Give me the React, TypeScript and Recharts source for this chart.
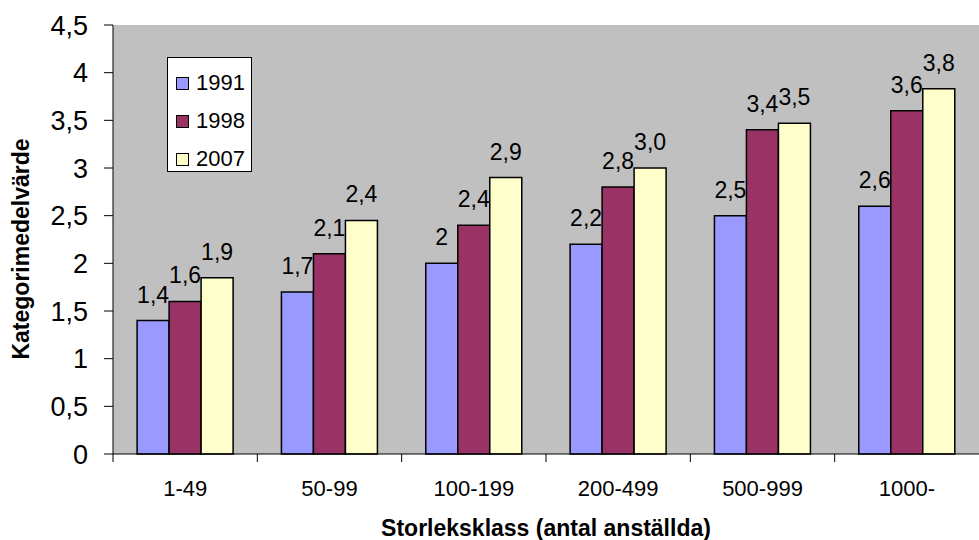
import React from "react";
import {
  BarChart,
  Bar,
  XAxis,
  YAxis,
  CartesianGrid,
  Legend,
  LabelList,
} from "recharts";

const categories = ["1-49", "50-99", "100-199", "200-499", "500-999", "1000-"];
const values1991 = [1.4, 1.7, 2.0, 2.2, 2.5, 2.6];
const values1998 = [1.6, 2.1, 2.4, 2.8, 3.4, 3.6];
const values2007 = [1.85, 2.45, 2.9, 3.0, 3.47, 3.83];
const labels1991 = ["1,4", "1,7", "2", "2,2", "2,5", "2,6"];
const labels1998 = ["1,6", "2,1", "2,4", "2,8", "3,4", "3,6"];
const labels2007 = ["1,9", "2,4", "2,9", "3,0", "3,5", "3,8"];
const yTicks = [0, 0.5, 1, 1.5, 2, 2.5, 3, 3.5, 4, 4.5];

const FONT = '"Liberation Sans", Arial, sans-serif';

const series = [
  { key: "y1991", label: "l1991", name: "1991", color: "#9999FF" },
  { key: "y1998", label: "l1998", name: "1998", color: "#993366" },
  { key: "y2007", label: "l2007", name: "2007", color: "#FFFFCC" },
];

const chartData = categories.map((cat, i) => ({
  name: cat,
  y1991: values1991[i],
  y1998: values1998[i],
  y2007: values2007[i],
  l1991: labels1991[i],
  l1998: labels1998[i],
  l2007: labels2007[i],
}));

// value label centred over each bar, a bit above its top
const renderValueLabel = (props: any) => {
  const { x, y, width, value } = props;
  return (
    <text
      x={Number(x) + Number(width) / 2}
      y={Number(y) - 18}
      textAnchor="middle"
      fontSize={23}
      fontFamily={FONT}
      fill="#000"
    >
      {value}
    </text>
  );
};

// category label plus a tick mark on the left edge of the band
const renderXTick = (props: any) => {
  const { x, y, payload } = props;
  const half = payload && payload.offset ? payload.offset : 72;
  return (
    <g>
      <line x1={x - half} y1={y} x2={x - half} y2={y + 8} stroke="#000" />
      <text
        x={x}
        y={y + 42}
        textAnchor="middle"
        fontSize={22}
        fontFamily={FONT}
        fill="#000"
      >
        {payload.value}
      </text>
    </g>
  );
};

const renderLegend = () => (
  <div
    style={{
      width: 85,
      height: 115,
      boxSizing: "border-box",
      background: "#fff",
      border: "1px solid #000",
      fontFamily: FONT,
      fontSize: 22,
      paddingTop: 6,
    }}
  >
    {series.map((s) => (
      <div
        key={s.key}
        style={{ display: "flex", alignItems: "center", height: 38, paddingLeft: 8 }}
      >
        <span
          style={{
            display: "inline-block",
            width: 11,
            height: 11,
            background: s.color,
            border: "1px solid #000",
            marginRight: 7,
          }}
        />
        {s.name}
      </div>
    ))}
  </div>
);

export default function App() {
  return (
    <div style={{ position: "absolute", left: 0, top: 0, background: "#fff" }}>
      <BarChart
        width={979}
        height={540}
        data={chartData}
        margin={{ top: 25, right: 0, bottom: 0, left: 0 }}
        barGap={0}
        barCategoryGap="16.7%"
      >
        <CartesianGrid
          fill="#C0C0C0"
          horizontal={false}
          vertical={false}
        />
        <XAxis
          dataKey="name"
          height={86}
          axisLine={{ stroke: "#000" }}
          tickLine={false}
          tickSize={0}
          tickMargin={0}
          tick={renderXTick}
          interval={0}
          label={{
            content: () => (
              <text
                x={546}
                y={536}
                textAnchor="middle"
                fontSize={23}
                fontWeight="bold"
                fontFamily={FONT}
                fill="#000"
              >
                Storleksklass (antal anställda)
              </text>
            ),
          }}
        />
        <YAxis
          width={113}
          domain={[0, 4.5]}
          ticks={yTicks}
          interval={0}
          axisLine={{ stroke: "#000" }}
          tickLine={{ stroke: "#000" }}
          tickSize={9}
          tickMargin={16}
          tick={{ fontSize: 27, fontFamily: FONT, fill: "#000" }}
          tickFormatter={(v: number) => String(v).replace(".", ",")}
          label={{
            content: () => (
              <text
                x={29}
                y={249}
                transform="rotate(-90 29 249)"
                textAnchor="middle"
                fontSize={23}
                fontWeight="bold"
                fontFamily={FONT}
                fill="#000"
              >
                Kategorimedelvärde
              </text>
            ),
          }}
        />
        <Legend
          layout="vertical"
          align="center"
          verticalAlign="middle"
          content={renderLegend}
          wrapperStyle={{ left: 167, top: 57, width: 85, height: 115 }}
        />
        {series.map((s) => (
          <Bar
            key={s.key}
            dataKey={s.key}
            name={s.name}
            fill={s.color}
            stroke="#000"
            strokeWidth={1.5}
            isAnimationActive={false}
          >
            <LabelList dataKey={s.label} content={renderValueLabel} />
          </Bar>
        ))}
      </BarChart>
    </div>
  );
}
